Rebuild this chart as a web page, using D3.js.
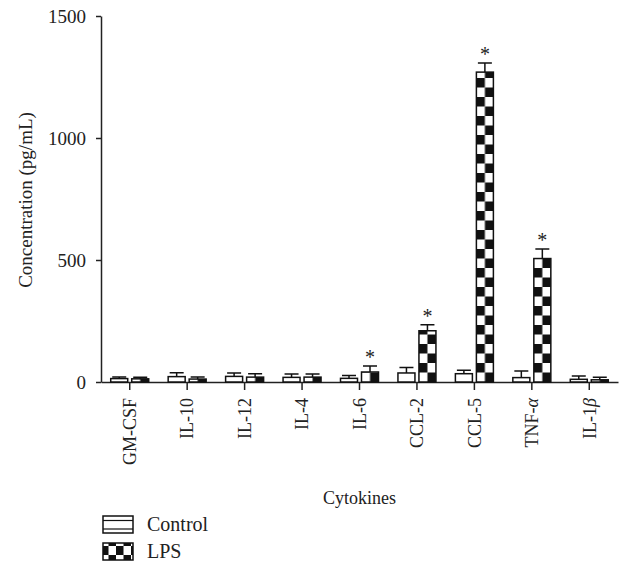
<!DOCTYPE html>
<html>
<head>
<meta charset="utf-8">
<script src="https://cdn.jsdelivr.net/npm/d3@7"></script>
<style>
  body { margin: 0; background: #fff; }
  svg { display: block; }
  svg text { font-family: "Liberation Serif", "DejaVu Serif", serif; }
</style>
</head>
<body>
<svg width="625" height="571"></svg>
<script>
// данные
const categories = ["GM-CSF", "IL-10", "IL-12", "IL-4", "IL-6", "CCL-2", "CCL-5", "TNF-α", "IL-1β"];
const controlValues = [14, 22, 23, 19, 15, 37, 34, 18, 11];
const controlErrors = [7, 16, 14, 14, 12, 22, 14, 27, 14];
const lpsValues = [13, 12, 20, 20, 41, 210, 1270, 506, 9];
const lpsErrors = [6, 8, 14, 13, 25, 25, 37, 39, 10];
const significant = [false, false, false, false, true, true, true, true, false];
const yTicks = [0, 500, 1000, 1500];
const seriesNames = ["Control", "LPS"];

const svg = d3.select("svg");

const area = { left: 101, right: 618, top: 16, bottom: 382 };

const scX = d3.scaleBand()
    .domain(categories)
    .range([area.left, area.right]);

const scSub = d3.scaleBand()
    .domain(seriesNames)
    .range([-19, 19])
    .paddingInner(0.1905);

const scY = d3.scaleLinear()
    .domain([0, 1500])
    .range([area.bottom, area.top]);

// строки для столбцов
const rows = [];
categories.forEach((c, i) => {
    rows.push({ cat: c, series: "Control", value: controlValues[i], err: controlErrors[i], star: false, i: i });
    rows.push({ cat: c, series: "LPS", value: lpsValues[i], err: lpsErrors[i], star: significant[i], i: i });
});

const barX = d => scX(d.cat) + scX.bandwidth() / 2 + scSub(d.series);

// шахматный узор - отдельный для каждого столбца LPS, чтобы клетки шли от оси
const defs = svg.append("defs");
const cellW = scSub.bandwidth() / 2, cellH = 9.5;
const lpsRows = rows.filter(d => d.series === "LPS");
const pats = defs.selectAll("pattern")
    .data(lpsRows)
    .enter()
    .append("pattern")
    .attr("id", d => "chk" + d.i)
    .attr("patternUnits", "userSpaceOnUse")
    .attr("x", d => barX(d))
    .attr("y", scY(0))
    .attr("width", cellW * 2)
    .attr("height", cellH * 2);
pats.append("rect").attr("width", cellW * 2).attr("height", cellH * 2).attr("fill", "#fff");
pats.append("rect").attr("x", 0).attr("y", 0).attr("width", cellW).attr("height", cellH).attr("fill", "#111");
pats.append("rect").attr("x", cellW).attr("y", cellH).attr("width", cellW).attr("height", cellH).attr("fill", "#111");

// узор для легенды
const lp = defs.append("pattern")
    .attr("id", "chkLegend")
    .attr("patternUnits", "userSpaceOnUse")
    .attr("x", 103).attr("y", 543)
    .attr("width", 15).attr("height", 18);
lp.append("rect").attr("width", 15).attr("height", 18).attr("fill", "#fff");
lp.append("rect").attr("width", 7.5).attr("height", 9).attr("fill", "#111");
lp.append("rect").attr("x", 7.5).attr("y", 9).attr("width", 7.5).attr("height", 9).attr("fill", "#111");

// оси
const axisY = d3.axisLeft(scY).tickValues(yTicks).tickFormat(d3.format("d"))
    .tickSize(5).tickSizeOuter(0).tickPadding(10);
const gy = svg.append("g")
    .attr("transform", `translate(${area.left},0)`)
    .call(axisY)
    .attr("font-family", null)
    .attr("font-size", null);
gy.selectAll("text").style("font-size", "19px").attr("fill", "#222");

const axisX = d3.axisBottom(scX).tickSize(8).tickSizeOuter(0).tickFormat("");
const gx = svg.append("g")
    .attr("transform", `translate(0,${area.bottom})`)
    .call(axisX)
    .attr("font-family", null)
    .attr("font-size", null);

svg.selectAll(".domain, .tick line").attr("stroke", "#222").attr("stroke-width", 1.5);

// подписи категорий - вертикальные, греческие буквы курсивом
const labels = gx.selectAll(".tick")
    .append("text")
    .attr("transform", "rotate(-90)")
    .attr("x", -16)
    .attr("y", 0)
    .attr("dy", "0.35em")
    .attr("text-anchor", "end")
    .attr("fill", "#222")
    .style("font-size", "18px");
labels.each(function(d) {
    const t = d3.select(this);
    const m = d.match(/^(.*?)([α-ω])$/);
    if (m) {
        t.append("tspan").text(m[1]);
        t.append("tspan").style("font-style", "italic").text(m[2]);
    } else {
        t.text(d);
    }
});

// столбцы
svg.selectAll(".bar")
    .data(rows)
    .enter()
    .append("rect")
    .attr("class", "bar")
    .attr("x", d => barX(d))
    .attr("y", d => scY(d.value))
    .attr("width", scSub.bandwidth())
    .attr("height", d => scY(0) - scY(d.value))
    .attr("fill", d => d.series === "LPS" ? `url(#chk${d.i})` : "#fff")
    .attr("stroke", "#111")
    .attr("stroke-width", 1.5);

// планки погрешностей - только вверх
const capW = 14;
svg.selectAll(".err")
    .data(rows)
    .enter()
    .append("path")
    .attr("class", "err")
    .attr("d", d => {
        const cx = barX(d) + scSub.bandwidth() / 2;
        const y0 = scY(d.value), y1 = scY(d.value + d.err);
        return `M${cx},${y0}V${y1}M${cx - capW / 2},${y1}H${cx + capW / 2}`;
    })
    .attr("fill", "none")
    .attr("stroke", "#111")
    .attr("stroke-width", 1.5);

// звездочки значимости
svg.selectAll(".star")
    .data(rows.filter(d => d.star))
    .enter()
    .append("text")
    .attr("class", "star")
    .attr("x", d => barX(d) + scSub.bandwidth() / 2)
    .attr("y", d => scY(d.value + d.err) - 2)
    .attr("text-anchor", "middle")
    .attr("fill", "#222")
    .style("font-size", "20px")
    .text("*");

// подписи осей
svg.append("text")
    .attr("transform", "translate(32,200) rotate(-90)")
    .attr("text-anchor", "middle")
    .attr("fill", "#222")
    .style("font-size", "19px")
    .text("Concentration (pg/mL)");

svg.append("text")
    .attr("x", (area.left + area.right) / 2)
    .attr("y", 504)
    .attr("text-anchor", "middle")
    .attr("fill", "#222")
    .style("font-size", "18px")
    .text("Cytokines");

// легенда
const lg = svg.append("g").selectAll("g")
    .data(seriesNames)
    .enter()
    .append("g")
    .attr("transform", (d, i) => `translate(103,${516 + i * 27})`);
lg.append("rect")
    .attr("width", 30)
    .attr("height", 17)
    .attr("fill", d => d === "LPS" ? "url(#chkLegend)" : "#fff")
    .attr("stroke", "#111")
    .attr("stroke-width", 1.5);
lg.filter(d => d === "Control")
    .selectAll("line")
    .data([4.5, 13])
    .enter()
    .append("line")
    .attr("x1", 0).attr("x2", 30)
    .attr("y1", d => d).attr("y2", d => d)
    .attr("stroke", "#111")
    .attr("stroke-width", 1.2);
lg.append("text")
    .attr("x", 44)
    .attr("y", 15)
    .attr("fill", "#222")
    .style("font-size", "20px")
    .text(d => d);
</script>
</body>
</html>
